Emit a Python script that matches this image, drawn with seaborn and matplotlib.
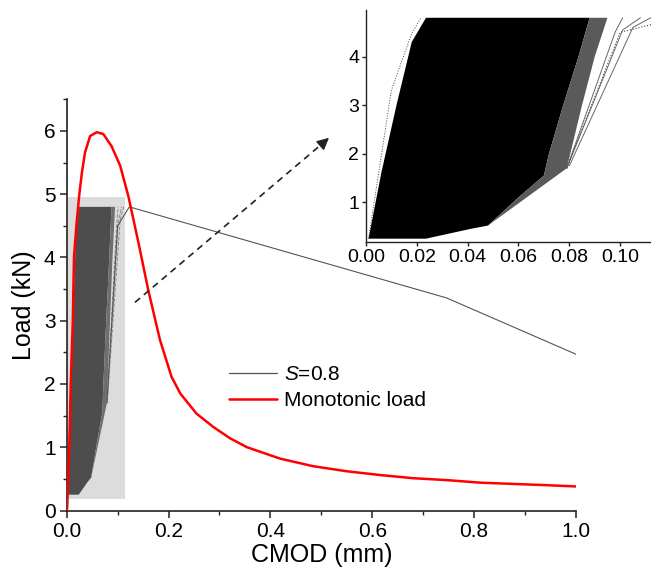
import matplotlib
matplotlib.use("Agg")
import matplotlib.pyplot as plt
import seaborn as sns
import pandas as pd
from matplotlib.patches import Rectangle, Polygon

# ---------------- data ----------------
# Monotonic load curve
mono_cmod = [0.0, 0.001, 0.005, 0.008, 0.012, 0.0143, 0.0195, 0.0248, 0.030, 0.036,
             0.046, 0.059, 0.072, 0.088, 0.105, 0.121, 0.141, 0.160, 0.183, 0.206,
             0.223, 0.240, 0.255, 0.288, 0.321, 0.354, 0.419, 0.484, 0.550, 0.616, 0.681,
             0.747, 0.812, 0.877, 0.943, 1.0]
mono_load = [0.0, 0.05, 1.0, 2.0, 3.0, 4.0, 4.55, 5.0, 5.35, 5.66,
             5.92, 5.98, 5.95, 5.76, 5.45, 4.97, 4.23, 3.49, 2.70, 2.11,
             1.85, 1.68, 1.53, 1.32, 1.14, 1.00, 0.82, 0.70, 0.62, 0.56, 0.51,
             0.48, 0.44, 0.42, 0.40, 0.38]

# S=0.8 cyclic test: envelope of the dense block of cycles
cyc_core_cmod = [0.001, 0.0236, 0.041, 0.048, 0.060, 0.070, 0.072, 0.0776, 0.0836, 0.088, 0.0236, 0.018, 0.012, 0.006]
cyc_core_load = [0.25, 0.25, 0.45, 0.52, 1.10, 1.55, 2.00, 3.00, 4.00, 4.80, 4.80, 4.30, 3.00, 1.60]
# fringe of the last, more open cycles
cyc_fringe_cmod = [0.048, 0.079, 0.085, 0.090, 0.095, 0.088, 0.0836, 0.0776, 0.072, 0.070, 0.060]
cyc_fringe_load = [0.52, 1.70, 3.00, 4.00, 4.80, 4.80, 4.00, 3.00, 2.00, 1.55, 1.10]
# first loading branch
cyc_first_cmod = [0.001, 0.010, 0.018, 0.0216]
cyc_first_load = [0.25, 3.31, 4.48, 4.80]
# a few individual late cycles
late1_cmod = [0.079, 0.098, 0.101]
late1_load = [1.70, 4.50, 4.80]
late2_cmod = [0.079, 0.101, 0.108]
late2_load = [1.70, 4.55, 4.80]
late3_cmod = [0.080, 0.105, 0.112]
late3_load = [1.75, 4.60, 4.80]
# final cycle and failure branch
tail_cmod = [0.079, 0.100, 0.123, 0.746, 1.0]
tail_load = [1.70, 4.50, 4.80, 3.36, 2.47]

series_labels = ["S=0.8", "Monotonic load"]
main_xticks = [0.0, 0.2, 0.4, 0.6, 0.8, 1.0]
main_yticks = [0, 1, 2, 3, 4, 5, 6]
inset_xticks = [0.00, 0.02, 0.04, 0.06, 0.08, 0.10]
inset_yticks = [1, 2, 3, 4]
zoom_xlim = (0.0, 0.1145)
zoom_ylim = (0.175, 4.96)

# ---------------- style ----------------
sns.set_style("ticks")
plt.rcParams["font.family"] = ["Liberation Sans", "DejaVu Sans"]
plt.rcParams["mathtext.fontset"] = "custom"
plt.rcParams["mathtext.rm"] = "Liberation Sans"
plt.rcParams["mathtext.it"] = "Liberation Sans:italic"
plt.rcParams["text.color"] = "black"
plt.rcParams["axes.labelcolor"] = "black"
plt.rcParams["xtick.color"] = "black"
plt.rcParams["ytick.color"] = "black"

W, H = 651, 573
fig = plt.figure(figsize=(W / 100, H / 100), dpi=100)
fig.patch.set_facecolor("white")

ax = fig.add_axes([66.7 / W, 1 - 510.5 / H, (576 - 66.7) / W, (510.5 - 99.3) / H])
ax.set_facecolor("white")

grey_line = "#555555"
red = "#ff0000"

# zoom region rectangle
ax.add_patch(Rectangle((zoom_xlim[0], zoom_ylim[0]), zoom_xlim[1] - zoom_xlim[0],
                       zoom_ylim[1] - zoom_ylim[0], facecolor="#dcdcdc", edgecolor="none", zorder=1))
ax.add_patch(Polygon(list(zip(cyc_core_cmod, cyc_core_load)), closed=True,
                     facecolor="#4d4d4d", edgecolor="none", zorder=2))
ax.add_patch(Polygon(list(zip(cyc_fringe_cmod, cyc_fringe_load)), closed=True,
                     facecolor="#6e6e6e", edgecolor="none", zorder=2))
for cx, cy in [(late1_cmod, late1_load), (late2_cmod, late2_load), (late3_cmod, late3_load)]:
    sns.lineplot(x=cx, y=cy, sort=False, estimator=None, ax=ax, color="#8a8a8a",
                 lw=0.7, ls="--", zorder=3)

sns.lineplot(x=tail_cmod, y=tail_load, sort=False, estimator=None, ax=ax,
             color=grey_line, lw=0.8, zorder=3, label=series_labels[0])
sns.lineplot(x=mono_cmod, y=mono_load, sort=False, estimator=None, ax=ax,
             color=red, lw=1.8, zorder=5, label=series_labels[1])

ax.set_xlim(0, 1.0)
ax.set_ylim(0, 6.5)
ax.set_xticks(main_xticks)
ax.set_xticklabels([f"{v:.1f}" for v in main_xticks])
ax.set_yticks(main_yticks)
ax.set_xticks([0.1, 0.3, 0.5, 0.7, 0.9], minor=True)
ax.set_yticks([0.5, 1.5, 2.5, 3.5, 4.5, 5.5, 6.5], minor=True)
ax.tick_params(which="major", direction="out", length=5, width=1.1, labelsize=15, pad=3, color="#222222")
ax.tick_params(which="minor", direction="out", length=3, width=1.0, color="#222222")
for s in ["top", "right"]:
    ax.spines[s].set_visible(False)
for s in ["left", "bottom"]:
    ax.spines[s].set_linewidth(1.2)
    ax.spines[s].set_color("#222222")
ax.set_xlabel("CMOD (mm)", fontsize=18, labelpad=2)
ax.set_ylabel("Load (kN)", fontsize=18, labelpad=6)

# legend
handles, _ = ax.get_legend_handles_labels()
leg = ax.legend(handles, ["$S$=0.8", "Monotonic load"], loc="upper left",
                bbox_to_anchor=(229 / W, 1 - 365 / H), bbox_transform=fig.transFigure,
                frameon=False, fontsize=15, handlelength=2.3, handletextpad=0.35,
                labelspacing=0.33, borderpad=0, borderaxespad=0)
leg.get_lines()[0].set_linewidth(0.9)

# dashed arrow pointing to the inset
ax.plot([0.134, 0.505], [3.29, 5.82], ls=(0, (4, 3)), color="#222222", lw=1.2, zorder=6)
ax.annotate("", xy=(0.519, 5.92), xytext=(0.500, 5.785),
            arrowprops=dict(arrowstyle="-|>", color="#222222", lw=1.0, mutation_scale=18),
            zorder=6)

# ---------------- inset ----------------
ins = fig.add_axes([366 / W, 1 - 242.3 / H, (657 - 366) / W, (242.3 - 10) / H])
ins.set_facecolor("white")
ins.add_patch(Polygon(list(zip(cyc_core_cmod, cyc_core_load)), closed=True,
                      facecolor="black", edgecolor="none", zorder=2))
ins.add_patch(Polygon(list(zip(cyc_fringe_cmod, cyc_fringe_load)), closed=True,
                      facecolor="#5a5a5a", edgecolor="none", zorder=2))
sns.lineplot(x=cyc_first_cmod, y=cyc_first_load, sort=False, estimator=None, ax=ins,
             color="#444444", lw=0.7, ls=":", zorder=3)
for cx, cy in [(late1_cmod, late1_load), (late2_cmod, late2_load), (late3_cmod, late3_load)]:
    sns.lineplot(x=cx, y=cy, sort=False, estimator=None, ax=ins, color="#666666",
                 lw=0.7, zorder=3)
sns.lineplot(x=tail_cmod, y=tail_load, sort=False, estimator=None, ax=ins,
             color="#444444", lw=0.8, ls=":", zorder=3)
ins.set_xlim(*zoom_xlim)
ins.set_ylim(*zoom_ylim)
ins.set_xticks(inset_xticks)
ins.set_xticklabels([f"{v:.2f}" for v in inset_xticks])
ins.set_yticks(inset_yticks)
ins.tick_params(which="major", direction="out", length=3, width=1.0, labelsize=14, pad=2, color="#222222")
for s in ["top", "right"]:
    ins.spines[s].set_visible(False)
for s in ["left", "bottom"]:
    ins.spines[s].set_linewidth(1.0)
    ins.spines[s].set_color("#222222")
ins.set_xlabel("")
ins.set_ylabel("")
if ins.get_legend() is not None:
    ins.get_legend().remove()

fig.savefig("out.png", dpi=100, facecolor="white")
